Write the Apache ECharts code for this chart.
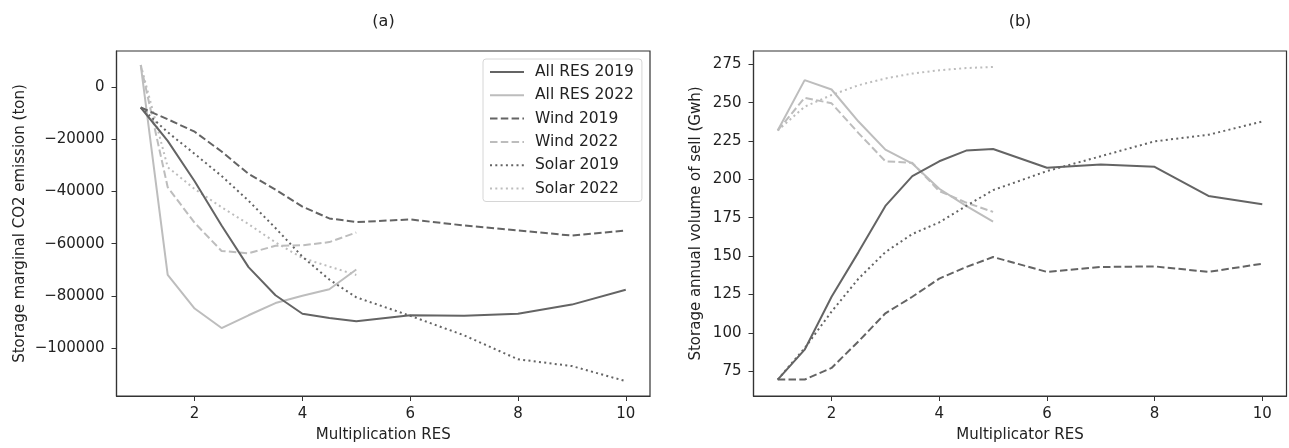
<!DOCTYPE html>
<html>
<head>
<meta charset="utf-8">
<script src="https://cdn.jsdelivr.net/npm/echarts@6/dist/echarts.min.js"></script>
<style>
  html, body { margin: 0; padding: 0; background: #fff; }
  #chart { width: 1289px; height: 448px; }
</style>
</head>
<body>
<div id="chart"></div>
<script>
// x values (multiplier of RES)
const xLong = [1, 1.5, 2, 2.5, 3, 3.5, 4, 4.5, 5, 6, 7, 8, 9, 10];
const xShort = [1, 1.5, 2, 2.5, 3, 3.5, 4, 4.5, 5];

// (a) storage marginal CO2 emission (ton)
const co2AllRes2019 = [-7700, -20500, -36000, -53000, -69000, -79800, -86900, -88500, -89800, -87500, -87700, -86900, -83400, -77700];
const co2AllRes2022 = [8600, -72000, -84900, -92400, -87500, -82800, -80000, -77500, -69900];
const co2Wind2019 = [-7700, -12200, -17000, -24600, -33200, -39200, -45800, -50300, -51700, -50700, -53000, -54900, -56900, -54900];
const co2Wind2022 = [8600, -38300, -52000, -62800, -63700, -60800, -60600, -59400, -55700];
const co2Solar2019 = [-7700, -17200, -25500, -34000, -43500, -54000, -65000, -73800, -80600, -87700, -95200, -104400, -107000, -112800];
const co2Solar2022 = [8600, -30600, -39000, -46000, -52500, -59500, -65500, -68800, -72000];

// (b) storage annual volume of sell (Gwh)
const sellAllRes2019 = [69.5, 89, 123.5, 152.6, 182.7, 202.1, 211.8, 218.8, 219.8, 207.6, 209.7, 208.2, 189.2, 183.8];
const sellAllRes2022 = [231.9, 264.7, 258.6, 237.7, 219.4, 210.3, 193.9, 182.7, 172.5];
const sellWind2019 = [69.5, 69.5, 77.1, 94.4, 112.7, 123.5, 135.3, 142.9, 149.4, 139.7, 142.9, 143.3, 139.7, 145];
const sellWind2022 = [231.9, 253.2, 249.6, 230.2, 211.8, 210.8, 192.4, 184.9, 178.8];
const sellSolar2019 = [69.5, 90, 113.8, 135.3, 152.6, 164.4, 172, 182.7, 193, 205.4, 215.1, 224.8, 229.1, 237.7];
const sellSolar2022 = [231.9, 247.4, 255, 261.4, 265.8, 269, 271.1, 272.6, 273.3];

const xTicks = [2, 4, 6, 8, 10];
const co2Ticks = [0, -20000, -40000, -60000, -80000, -100000];
const sellTicks = [75, 100, 125, 150, 175, 200, 225, 250, 275];

const names = ["All RES 2019", "All RES 2022", "Wind 2019", "Wind 2022", "Solar 2019", "Solar 2022"];

const FONT = "DejaVu Sans";
const DARK = "#646464";
const LIGHT = "#bdbdbd";
const TXT = "#222";
const DASH = [7.5, 3.3];
const DOT = [2, 3.3];

function pairs(xs, ys) {
  return xs.map((x, i) => [x, ys[i]]);
}

function minusFmt(v) {
  return v < 0 ? "\u2212" + Math.abs(v) : String(v);
}

function line(name, xs, ys, color, type, idx) {
  return {
    name: name,
    type: "line",
    xAxisIndex: idx,
    yAxisIndex: idx,
    data: pairs(xs, ys),
    symbol: "none",
    smooth: false,
    animation: false,
    lineStyle: { color: color, width: 2, type: type },
    itemStyle: { color: color },
    z: color === DARK ? 3 : 2
  };
}

function xAx(idx, title) {
  return {
    type: "value",
    gridIndex: idx,
    min: 0.55,
    max: 10.45,
    name: title,
    nameLocation: "middle",
    nameGap: 32,
    nameTextStyle: { fontFamily: FONT, fontSize: 15, color: TXT },
    axisLine: { show: true, onZero: false, lineStyle: { color: "#333", width: 1.2 } },
    axisTick: { show: true, length: 5, customValues: xTicks, lineStyle: { color: "#333" } },
    axisLabel: { customValues: xTicks, margin: 11, fontFamily: FONT, fontSize: 15, color: TXT },
    splitLine: { show: false }
  };
}

function yAx(idx, title, min, max, ticks, gap) {
  return {
    type: "value",
    gridIndex: idx,
    min: min,
    max: max,
    name: title,
    nameLocation: "middle",
    nameGap: gap,
    nameTextStyle: { fontFamily: FONT, fontSize: 15, color: TXT },
    axisLine: { show: true, onZero: false, lineStyle: { color: "#333", width: 1.2 } },
    axisTick: { show: true, length: 5, customValues: ticks, lineStyle: { color: "#333" } },
    axisLabel: { customValues: ticks, margin: 12, fontFamily: FONT, fontSize: 15, color: TXT, formatter: minusFmt },
    splitLine: { show: false }
  };
}

const chart = echarts.init(document.getElementById("chart"), null, { renderer: "canvas" });

chart.setOption({
  backgroundColor: "#fff",
  animation: false,
  graphic: [
    { type: "text", x: 383.5, y: 22, style: { text: "(a)", font: "16px DejaVu Sans", fill: TXT, align: "center", verticalAlign: "middle" } },
    { type: "text", x: 1020, y: 22, style: { text: "(b)", font: "16px DejaVu Sans", fill: TXT, align: "center", verticalAlign: "middle" } }
  ],
  grid: [
    { left: 116.5, top: 51, width: 533.5, height: 347.3, show: true, borderColor: "#333", borderWidth: 1.2, backgroundColor: "transparent" },
    { left: 753.5, top: 51, width: 533, height: 347.3, show: true, borderColor: "#333", borderWidth: 1.2, backgroundColor: "transparent" }
  ],
  legend: {
    data: names,
    orient: "vertical",
    left: 483,
    top: 59,
    padding: [5, 8, 5, 6],
    itemWidth: 34,
    itemHeight: 16,
    itemGap: 7.3,
    itemStyle: { opacity: 0 },
    backgroundColor: "#fff",
    borderColor: "#d6d6d6",
    borderWidth: 1,
    borderRadius: 3,
    textStyle: { fontFamily: FONT, fontSize: 15.5, color: TXT, lineHeight: 16, padding: [0, 0, 0, 6] }
  },
  xAxis: [xAx(0, "Multiplication RES"), xAx(1, "Multiplicator RES")],
  yAxis: [
    yAx(0, "Storage marginal CO2 emission (ton)", -118500, 14000, co2Ticks, 89),
    yAx(1, "Storage annual volume of sell (Gwh)", 58.8, 283.7, sellTicks, 50)
  ],
  series: [
    line(names[0], xLong, co2AllRes2019, DARK, "solid", 0),
    line(names[1], xShort, co2AllRes2022, LIGHT, "solid", 0),
    line(names[2], xLong, co2Wind2019, DARK, DASH, 0),
    line(names[3], xShort, co2Wind2022, LIGHT, DASH, 0),
    line(names[4], xLong, co2Solar2019, DARK, DOT, 0),
    line(names[5], xShort, co2Solar2022, LIGHT, DOT, 0),
    line(names[0], xLong, sellAllRes2019, DARK, "solid", 1),
    line(names[1], xShort, sellAllRes2022, LIGHT, "solid", 1),
    line(names[2], xLong, sellWind2019, DARK, DASH, 1),
    line(names[3], xShort, sellWind2022, LIGHT, DASH, 1),
    line(names[4], xLong, sellSolar2019, DARK, DOT, 1),
    line(names[5], xShort, sellSolar2022, LIGHT, DOT, 1)
  ]
});
</script>
</body>
</html>
